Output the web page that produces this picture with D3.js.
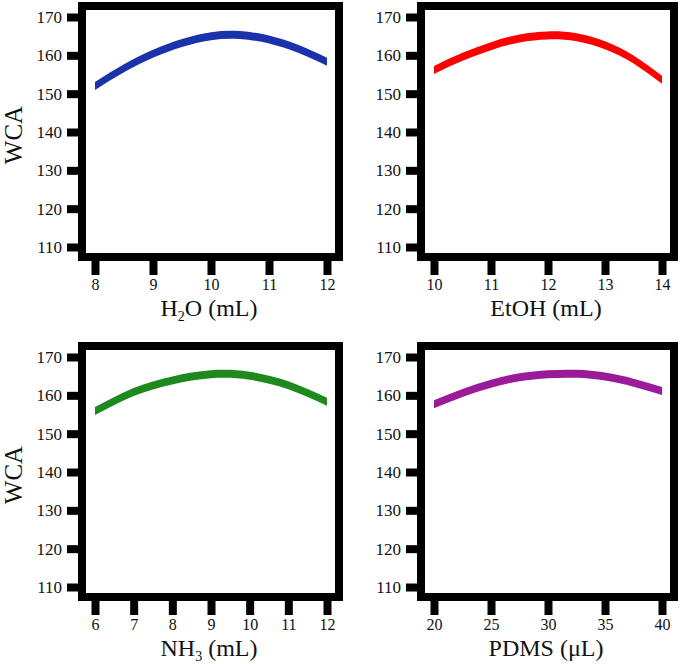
<!DOCTYPE html>
<html>
<head>
<meta charset="utf-8">
<script src="https://cdn.jsdelivr.net/npm/d3@7"></script>
<style>
  html, body { margin: 0; padding: 0; background: #fff; }
  svg { display: block; }
  svg text { font-family: "Liberation Serif", "Times New Roman", serif !important; fill: #111; }
</style>
</head>
<body>
<svg id="chart" width="685" height="664"></svg>
<script>
// ---- data ----
const yTicks = [110, 120, 130, 140, 150, 160, 170];

const h2oX   = [8, 8.5, 9, 9.5, 10, 10.5, 11, 11.5, 12];
const h2oWCA = [152.0, 156.6, 160.4, 163.2, 165.0, 165.3, 164.1, 161.7, 158.3];
const h2oTicks = [8, 9, 10, 11, 12];

const etohX   = [10, 10.5, 11, 11.5, 12, 12.5, 13, 13.5, 14];
const etohWCA = [156.2, 159.6, 162.4, 164.4, 165.2, 164.7, 162.6, 158.9, 153.6];
const etohTicks = [10, 11, 12, 13, 14];

const nh3X   = [6, 7, 8, 9, 10, 11, 12];
const nh3WCA = [155.9, 160.9, 163.9, 165.5, 165.1, 162.6, 158.3];
const nh3Ticks = [6, 7, 8, 9, 10, 11, 12];

const pdmsX   = [20, 22.5, 25, 27.5, 30, 32.5, 35, 37.5, 40];
const pdmsWCA = [157.7, 160.6, 163.0, 164.7, 165.5, 165.6, 164.9, 163.3, 161.1];
const pdmsTicks = [20, 25, 30, 35, 40];

const panels = [
  { xs: h2oX,  ys: h2oWCA,  ticks: h2oTicks,  color: "#1a33aa", label: ["H", "2", "O (mL)"], showY: true,
    inner: { l: 86, r: 335, t: 10, b: 253 } },
  { xs: etohX, ys: etohWCA, ticks: etohTicks, color: "#ff0000", label: ["EtOH (mL)"], showY: false,
    inner: { l: 425, r: 670, t: 10, b: 253 } },
  { xs: nh3X,  ys: nh3WCA,  ticks: nh3Ticks,  color: "#1e8a1e", label: ["NH", "3", " (mL)"], showY: true,
    inner: { l: 86, r: 335, t: 350, b: 593 } },
  { xs: pdmsX, ys: pdmsWCA, ticks: pdmsTicks, color: "#9a1a9a", label: ["PDMS (\u03BCL)"], showY: false,
    inner: { l: 425, r: 670, t: 350, b: 593 } }
];

const svg = d3.select("#chart");
const FRAME = 8;
const SERIF = "'Liberation Serif', 'Times New Roman', serif";

panels.forEach(p => {
  const inr = p.inner;
  const x = d3.scaleLinear()
    .domain(d3.extent(p.ticks))
    .range([inr.l + 9, inr.r - 8]);
  const y = d3.scaleLinear()
    .domain([110, 170])
    .range([inr.b - 6, inr.t + 7]);

  const g = svg.append("g");

  g.append("rect")
    .attr("x", inr.l).attr("y", inr.t)
    .attr("width", inr.r - inr.l).attr("height", inr.b - inr.t)
    .attr("fill", "#fff");

  // curve band
  const pts = p.xs.map((d, i) => [d, p.ys[i]]);
  const area = d3.area()
    .x(d => x(d[0]))
    .y0(d => y(d[1]) + 4)
    .y1(d => y(d[1]) - 4)
    .curve(d3.curveNatural);
  g.append("path")
    .datum(pts)
    .attr("d", area)
    .attr("fill", p.color);

  // thick frame
  g.append("rect")
    .attr("x", inr.l - FRAME / 2).attr("y", inr.t - FRAME / 2)
    .attr("width", inr.r - inr.l + FRAME).attr("height", inr.b - inr.t + FRAME)
    .attr("fill", "none")
    .attr("stroke", "#000")
    .attr("stroke-width", FRAME);

  // y axis
  const yAxis = d3.axisLeft(y).tickValues(yTicks).tickSize(11).tickPadding(5);
  const ya = g.append("g")
    .attr("transform", `translate(${inr.l - FRAME},0)`)
    .call(yAxis)
    .attr("font-family", null).attr("font-size", null);
  ya.select(".domain").remove();
  ya.selectAll(".tick line").attr("stroke", "#000").attr("stroke-width", 8);
  ya.selectAll(".tick text")
    .style("font-family", SERIF)
    .style("font-size", "17px")
    .attr("fill", "#111");

  // x axis
  const xAxis = d3.axisBottom(x).tickValues(p.ticks).tickSize(14).tickPadding(4)
    .tickFormat(d3.format("d"));
  const xa = g.append("g")
    .attr("transform", `translate(0,${inr.b + FRAME})`)
    .call(xAxis)
    .attr("font-family", null).attr("font-size", null);
  xa.select(".domain").remove();
  xa.selectAll(".tick line").attr("stroke", "#000").attr("stroke-width", 8);
  xa.selectAll(".tick text")
    .style("font-family", SERIF)
    .style("font-size", "16px")
    .attr("fill", "#111");

  // x label
  const cx = (x.range()[0] + x.range()[1]) / 2;
  const lbl = g.append("text")
    .attr("x", cx - 2)
    .attr("y", inr.b + 63)
    .attr("text-anchor", "middle")
    .style("font-family", SERIF)
    .style("font-size", "24px");
  if (p.label.length === 3) {
    lbl.append("tspan").text(p.label[0]);
    lbl.append("tspan").style("font-size", "14px").attr("dy", 5).text(p.label[1]);
    lbl.append("tspan").attr("dy", -5).text(p.label[2]);
  } else {
    lbl.text(p.label[0]);
  }

  // y label
  if (p.showY) {
    const cy = y(140);
    g.append("text")
      .attr("transform", `translate(22,${cy + 3}) rotate(-90)`)
      .attr("text-anchor", "middle")
      .style("font-family", SERIF)
      .style("font-size", "25px")
      .text("WCA");
  }
});
</script>
</body>
</html>
